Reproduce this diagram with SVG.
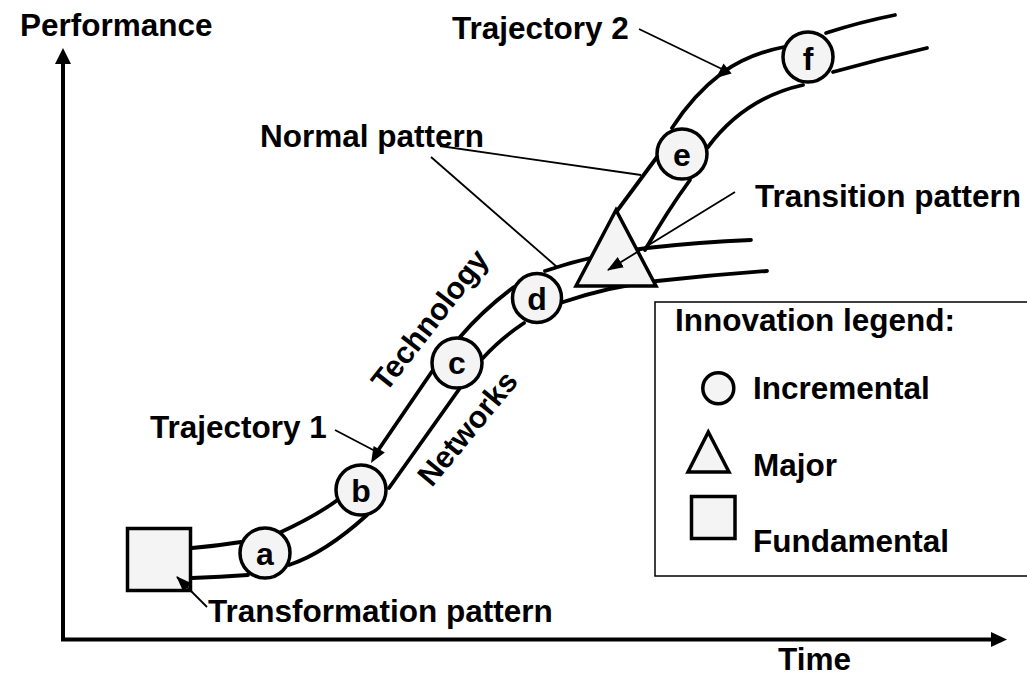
<svg xmlns="http://www.w3.org/2000/svg" width="1027" height="677" viewBox="0 0 1027 677">
<style>
.t{font-family:"Liberation Sans",Arial,Helvetica,sans-serif;font-weight:bold;font-size:31.5px;fill:#000}
.lt{font-size:32px;text-anchor:middle}
.rt{font-size:30.5px;text-anchor:middle}
.band{fill:none;stroke:#000;stroke-width:3.8;stroke-linecap:round;stroke-linejoin:round}
.axis{fill:none;stroke:#000;stroke-width:4}
.lead{fill:none;stroke:#000;stroke-width:1.8}
.node{fill:#f4f4f4;stroke:#000;stroke-width:3.5}
.head{fill:#000;stroke:none}
</style>
<defs>
<marker id="ah" viewBox="0 0 16 12" refX="15" refY="6" markerWidth="16" markerHeight="12" markerUnits="userSpaceOnUse" orient="auto">
<path d="M0,0 L16,6 L0,12 Z" fill="#000"/>
</marker>
</defs>
<rect width="1027" height="677" fill="#fff"/>

<g id="axes">
<line class="axis" x1="63" y1="641" x2="63" y2="62"/>
<polygon class="head" points="63,48 55,64 71,64"/>
<line class="axis" x1="61" y1="639.5" x2="993" y2="639.5"/>
<polygon class="head" points="1007,639.5 991,632 991,647"/>
</g>

<g id="connectors">
<!-- trajectory 1 upper boundary -->
<path class="band" d="M192,548 Q216,546 241,542"/>
<path class="band" d="M279,533 Q316,516 339,499"/>
<path class="band" d="M433,370 L379,449"/>
<polygon class="head" points="371,463 384.8,452.5 373.6,445.9"/>
<path class="band" d="M460,337 Q483,310 514,287"/>
<path class="band" d="M545,271 Q595,254 647,248 Q700,242 751,240"/>
<!-- trajectory 1 lower boundary -->
<path class="band" d="M192,578 Q220,577 248,575"/>
<path class="band" d="M289,565 Q325,553 367,515"/>
<path class="band" d="M389,488 Q421,443 460,388"/>
<path class="band" d="M483,358 Q500,339 524,323"/>
<path class="band" d="M560,303 Q610,286 657,281 Q712,275 767,271"/>
<!-- trajectory 2 upper boundary -->
<path class="band" d="M617,211 L657,157"/>
<path class="band" d="M672,128 Q693,95 722,73 Q748,54 784,47"/>
<polygon class="head" points="716,78 731.7,73.5 723.5,63.5"/>
<path class="band" d="M826,33 Q860,22 895,15"/>
<!-- trajectory 2 lower boundary -->
<path class="band" d="M645,250 Q668,210 690,180"/>
<path class="band" d="M708,147 Q744.5,98 803,85"/>
<path class="band" d="M833,72 Q880,59 927,48"/>
<!-- leader lines -->
<line class="lead" x1="639" y1="29" x2="724" y2="70"/>
<line class="lead" x1="335" y1="430" x2="377" y2="452"/>
<line class="lead" x1="440" y1="146" x2="641" y2="175"/>
<line class="lead" x1="431" y1="157" x2="557" y2="267"/>
</g>

<g id="node-square">
<rect class="node" x="127.5" y="528.5" width="63" height="62"/>
</g>
<g id="node-triangle">
<polygon class="node" points="616,210 576,286 656,286"/>
</g>

<g id="node-a"><circle class="node" cx="265" cy="553" r="25"/><text class="t lt" x="265" y="565">a</text></g>
<g id="node-b"><circle class="node" cx="361" cy="490" r="25"/><text class="t lt" x="361" y="501.5">b</text></g>
<g id="node-c"><circle class="node" cx="457" cy="363" r="25"/><text class="t lt" x="457" y="374">c</text></g>
<g id="node-d"><circle class="node" cx="537" cy="298" r="24.5"/><text class="t lt" x="537" y="309.5">d</text></g>
<g id="node-e"><circle class="node" cx="682" cy="154" r="25"/><text class="t lt" x="682" y="166">e</text></g>
<g id="node-f"><circle class="node" cx="808" cy="57" r="25"/><text class="t lt" x="808" y="69.5">f</text></g>

<g id="pointer-arrows">
<line class="lead" x1="207" y1="607" x2="177" y2="577" marker-end="url(#ah)"/>
<line class="lead" x1="735" y1="192" x2="608" y2="270" marker-end="url(#ah)"/>
</g>

<g id="labels">
<text class="t" x="20" y="36">Performance</text>
<text class="t" x="778" y="670">Time</text>
<text class="t" x="452" y="39">Trajectory 2</text>
<text class="t" x="260" y="147">Normal pattern</text>
<text class="t" x="755" y="207">Transition pattern</text>
<text class="t" x="150" y="438">Trajectory 1</text>
<text class="t" x="208" y="622">Transformation pattern</text>
<text class="t rt" transform="translate(438,326.5) rotate(-52)">Technology</text>
<text class="t rt" transform="translate(475.5,435) rotate(-50.5)">Networks</text>
</g>

<g id="legend">
<rect x="655" y="302" width="380" height="274" fill="#fff" stroke="#000" stroke-width="1.5"/>
<text class="t" x="675" y="331">Innovation legend:</text>
<circle class="node" cx="718.3" cy="388.3" r="15.5" stroke-width="2.8"/>
<text class="t" x="753" y="399">Incremental</text>
<polygon class="node" points="708.3,432 688,472 729,472" stroke-width="3"/>
<text class="t" x="753" y="476">Major</text>
<rect class="node" x="691.5" y="496.5" width="43.5" height="42" stroke-width="3.3"/>
<text class="t" x="753" y="552">Fundamental</text>
</g>
</svg>
